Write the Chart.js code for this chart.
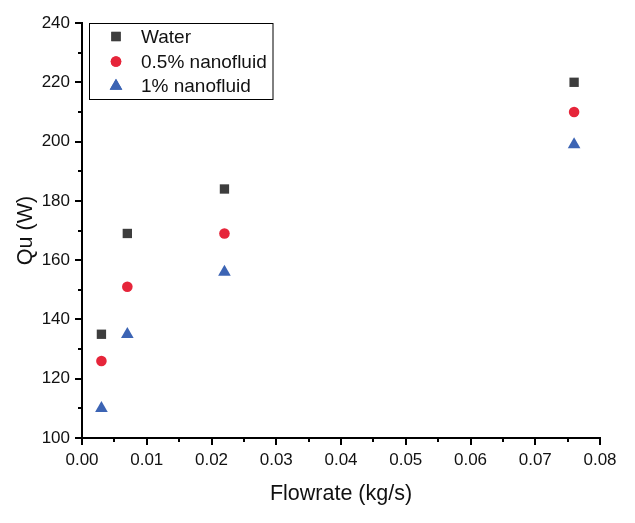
<!DOCTYPE html>
<html>
<head>
<meta charset="utf-8">
<script src="https://cdn.jsdelivr.net/npm/chart.js@4/dist/chart.umd.min.js"></script>
<style>
html,body{margin:0;padding:0;background:#fff;}
canvas{display:block;}
</style>
</head>
<body>
<canvas id="c" width="635" height="523"></canvas>
<script>
const flowrate = [0.003, 0.007, 0.022, 0.076];
const quWater = [135, 169, 184, 220];
const quNano05 = [126, 151, 169, 210];
const quNano1 = [110, 135, 156, 199];
const seriesNames = ['Water', '0.5% nanofluid', '1% nanofluid'];
const xTitle = 'Flowrate (kg/s)';
const yTitle = 'Qu (W)';

const FONT = 'Liberation Sans, Arial, sans-serif';
const toPts = ys => flowrate.map((x, i) => ({x: x, y: ys[i]}));

const axisTicks = {
  id: 'axisTicks',
  afterDraw(chart) {
    const ctx = chart.ctx, ca = chart.chartArea;
    const xs = chart.scales.x, ys = chart.scales.y;
    ctx.save();
    ctx.strokeStyle = '#000';
    ctx.lineWidth = 2;
    ctx.beginPath();
    for (let i = 0; i <= 16; i++) {
      const v = i * 0.005;
      const len = i % 2 === 0 ? 7 : 4;
      const px = Math.round(xs.getPixelForValue(v));
      ctx.moveTo(px, ca.bottom);
      ctx.lineTo(px, ca.bottom + len);
    }
    for (let i = 0; i <= 14; i++) {
      const v = 100 + i * 10;
      const len = i % 2 === 0 ? 7 : 4;
      const py = Math.round(ys.getPixelForValue(v));
      ctx.moveTo(ca.left, py);
      ctx.lineTo(ca.left - len, py);
    }
    ctx.stroke();
    ctx.restore();
  }
};

const boxLegend = {
  id: 'boxLegend',
  afterDraw(chart) {
    const ctx = chart.ctx;
    ctx.save();
    ctx.strokeStyle = '#000';
    ctx.lineWidth = 1;
    ctx.strokeRect(89.5, 23.5, 183.5, 76);
    const rows = [36.5, 61.5, 86];
    ctx.font = '19px ' + FONT;
    ctx.textBaseline = 'middle';
    chart.data.datasets.forEach((ds, i) => {
      ctx.fillStyle = ds.backgroundColor;
      ctx.beginPath();
      Chart.helpers.drawPoint(ctx, {
        pointStyle: ds.pointStyle, radius: ds.pointRadius, rotation: 0,
        borderWidth: 0
      }, 116, rows[i]);
      ctx.fill();
      ctx.fillStyle = '#111';
      ctx.fillText(seriesNames[i], 141, rows[i] + 1);
    });
    ctx.restore();
  }
};

new Chart(document.getElementById('c'), {
  type: 'scatter',
  data: {
    datasets: [
      {label: seriesNames[0], data: toPts(quWater), pointStyle: 'rect', pointRadius: 6.6,
       backgroundColor: '#3d3d3d', borderColor: '#3d3d3d', borderWidth: 0},
      {label: seriesNames[1], data: toPts(quNano05), pointStyle: 'circle', pointRadius: 5.3,
       backgroundColor: '#e6253a', borderColor: '#e6253a', borderWidth: 0},
      {label: seriesNames[2], data: toPts(quNano1), pointStyle: 'triangle', pointRadius: 7.3,
       backgroundColor: '#3c64b4', borderColor: '#3c64b4', borderWidth: 0}
    ]
  },
  options: {
    responsive: false,
    animation: false,
    layout: {padding: {top: 23, right: 35, left: 0, bottom: 0}},
    plugins: {legend: {display: false}, tooltip: {enabled: false}},
    elements: {point: {hoverRadius: 0}},
    scales: {
      x: {
        type: 'linear', min: 0, max: 0.08,
        afterFit(s) { s.height = 85; },
        ticks: {stepSize: 0.01, color: '#111', font: {family: FONT, size: 17}, padding: 5,
          callback: v => v.toFixed(2), maxRotation: 0, autoSkip: false},
        grid: {display: true, drawOnChartArea: false, drawTicks: true, tickLength: 7, tickWidth: 0, tickColor: 'rgba(0,0,0,0)', color: 'rgba(0,0,0,0)'},
        border: {display: true, width: 2, color: '#000'},
        title: {display: true, text: xTitle, color: '#111', font: {family: FONT, size: 21.5}, padding: {top: 0, bottom: 16}}
      },
      y: {
        type: 'linear', min: 100, max: 240,
        afterFit(s) { s.width = 82; },
        ticks: {stepSize: 20, color: '#111', font: {family: FONT, size: 17}, padding: 5, autoSkip: false},
        grid: {display: true, drawOnChartArea: false, drawTicks: true, tickLength: 7, tickWidth: 0, tickColor: 'rgba(0,0,0,0)', color: 'rgba(0,0,0,0)'},
        border: {display: true, width: 2, color: '#000'},
        title: {display: true, text: yTitle, color: '#111', font: {family: FONT, size: 21.5}, padding: {top: 13, bottom: 0}}
      }
    }
  },
  plugins: [axisTicks, boxLegend]
});
</script>
</body>
</html>
